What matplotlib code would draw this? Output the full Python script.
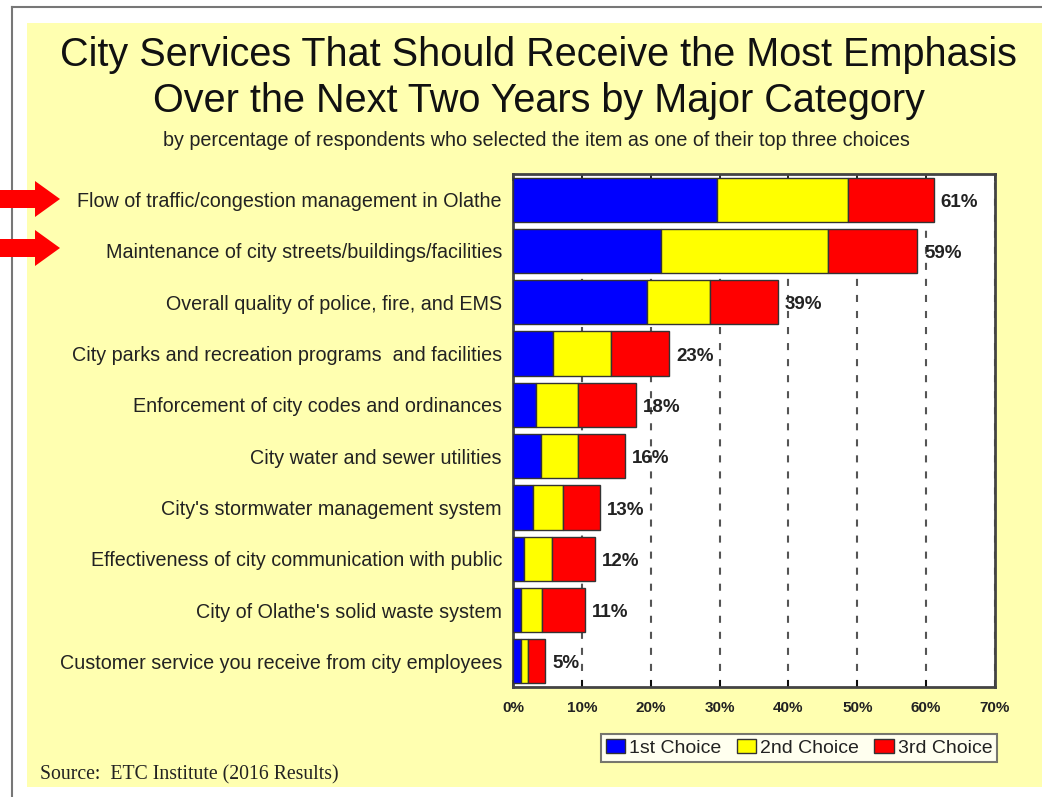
import numpy as np
import matplotlib.pyplot as plt
from matplotlib.patches import Rectangle, Polygon

# Data
categories = [
    "Flow of traffic/congestion management in Olathe",
    "Maintenance of city streets/buildings/facilities",
    "Overall quality of police, fire, and EMS",
    "City parks and recreation programs  and facilities",
    "Enforcement of city codes and ordinances",
    "City water and sewer utilities",
    "City's stormwater management system",
    "Effectiveness of city communication with public",
    "City of Olathe's solid waste system",
    "Customer service you receive from city employees",
]
first = [29.6, 21.5, 19.5, 5.8, 3.4, 4.1, 2.9, 1.6, 1.2, 1.1]
second = [19.0, 24.2, 9.1, 8.4, 6.0, 5.3, 4.4, 4.0, 3.0, 1.1]
third = [12.5, 13.0, 9.9, 8.5, 8.4, 6.9, 5.4, 6.3, 6.3, 2.5]
totals = ["61%", "59%", "39%", "23%", "18%", "16%", "13%", "12%", "11%", "5%"]
xticks = [0, 10, 20, 30, 40, 50, 60, 70]

plt.rcParams['font.family'] = ['Liberation Sans', 'DejaVu Sans']

W, H = 1042, 797
fig = plt.figure(figsize=(W / 100, H / 100), dpi=100)
fig.patch.set_facecolor('white')

def fx(px):
    return px / W

def fy(py):
    return 1 - py / H

# yellow panel and outer frame
fig.patches.append(Rectangle((fx(27), fy(787)), fx(1042 - 27), (787 - 23) / H,
                             transform=fig.transFigure, facecolor='#ffffb0',
                             edgecolor='none', zorder=-10))
fig.add_artist(plt.Line2D([fx(12), fx(12)], [fy(7), 0], color='#777777', lw=1.5))
fig.add_artist(plt.Line2D([fx(12), 1], [fy(7), fy(7)], color='#777777', lw=1.5))

# titles
fig.text(0.517, fy(55), "City Services That Should Receive the Most Emphasis",
         ha='center', va='center', fontsize=28.5, color='#111111')
fig.text(0.517, fy(101), "Over the Next Two Years by Major Category",
         ha='center', va='center', fontsize=28.5, color='#111111')
fig.text(0.515, fy(140), "by percentage of respondents who selected the item as one of their top three choices",
         ha='center', va='center', fontsize=14.2, color='#222222')

ax = fig.add_axes([fx(513), fy(687), fx(995 - 513), (687 - 174) / H])
ax.set_facecolor('white')

y = np.arange(len(categories))
h = 0.86
ax.barh(y, first, height=h, color='#0000ff', edgecolor='#333333', lw=1, label='1st Choice', zorder=3)
ax.barh(y, second, left=first, height=h, color='#ffff00', edgecolor='#333333', lw=1,
        label='2nd Choice', zorder=3)
left3 = np.array(first) + np.array(second)
ax.barh(y, third, left=left3, height=h, color='#ff0000', edgecolor='#333333', lw=1,
        label='3rd Choice', zorder=3)

ends = left3 + np.array(third)
for yi, e, t in zip(y, ends, totals):
    ax.text(e + 1.0, yi + 0.05, t, va='center', ha='left', fontsize=13.5,
            fontweight='bold', color='#222222', zorder=4)

ax.set_xlim(0, 70)
ax.set_ylim(len(categories) - 0.5, -0.5)
ax.set_xticks(xticks)
ax.set_xticklabels([f"{v}%" for v in xticks], fontsize=11, fontweight='bold', color='#222222')
ax.set_yticks(y)
ax.set_yticklabels(categories, fontsize=14.2, color='#222222')
ax.tick_params(axis='y', length=0, pad=8)
ax.tick_params(axis='x', direction='in', length=5, width=1.2, top=True, pad=10)
ax.xaxis.grid(True, linestyle=(0, (3.4, 4.3)), color='#555555', lw=1.5, zorder=1)
for s in ax.spines.values():
    s.set_color('#444444')
    s.set_linewidth(2)

leg = fig.legend(loc='center', bbox_to_anchor=(fx(799), fy(748)), ncol=3, fontsize=14,
                 frameon=True, fancybox=False, edgecolor='#555555', handlelength=1.0,
                 handleheight=0.7, handletextpad=0.2, columnspacing=0.8,
                 borderpad=0.25)
leg.get_frame().set_linewidth(1.5)
for t in leg.get_texts():
    t.set_color('#222222')

fig.text(fx(40), fy(775), "Source:  ETC Institute (2016 Results)", ha='left', va='center',
         fontsize=14.2, family='Liberation Serif', color='#222222')

# red arrows pointing at the top two items
for cy in [199, 248]:
    pts = [(0, cy - 9), (35, cy - 9), (35, cy - 18), (60, cy), (35, cy + 18),
           (35, cy + 9), (0, cy + 9)]
    fig.patches.append(Polygon([(fx(px), fy(py)) for px, py in pts], closed=True,
                               transform=fig.transFigure, facecolor='#ff0000',
                               edgecolor='none', zorder=5))

fig.savefig('out.png', dpi=100)
